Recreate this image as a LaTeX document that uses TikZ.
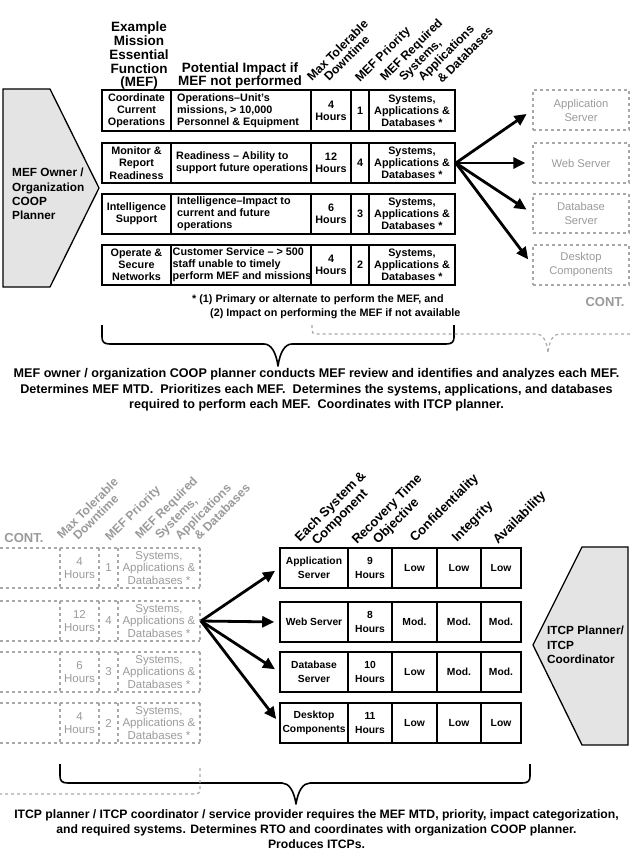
\documentclass[tikz,border=0pt]{standalone}
\usepackage{fontspec}
\setmainfont{Liberation Sans}
\usetikzlibrary{arrows.meta}
\definecolor{gfill}{HTML}{E4E4E4}
\definecolor{gline}{HTML}{A8A8A8}
\definecolor{gtext}{HTML}{9A9A9A}
\newcommand{\cellf}{\fontsize{10.8}{12.2}\selectfont\bfseries}
\newcommand{\headf}{\fontsize{13.5}{13.8}\selectfont\bfseries}
\newcommand{\rotf}{\fontsize{12.2}{13}\selectfont\bfseries}
\newcommand{\rotbf}{\fontsize{13}{13}\selectfont\bfseries}
\newcommand{\ownf}{\fontsize{11.8}{14.3}\selectfont\bfseries}
\newcommand{\grayf}{\fontsize{11.5}{12.6}\selectfont}
\newcommand{\grayboxf}{\fontsize{11.2}{14}\selectfont}
\newcommand{\capf}{\fontsize{12.6}{15.5}\selectfont\bfseries}
\newcommand{\capbf}{\fontsize{12.2}{15}\selectfont\bfseries}
\newcommand{\btf}{\fontsize{10.3}{13.5}\selectfont\bfseries}
\newcommand{\contf}{\fontsize{13}{13}\selectfont\bfseries}
\begin{document}
\begin{tikzpicture}[x=1pt,y=-1pt,
  tcell/.style={draw, line width=1.6pt, inner sep=0pt, align=center, font=\cellf},
  bcell/.style={draw, line width=1.6pt, inner sep=0pt, align=center, font=\btf, minimum height=40pt},
  ctext/.style={inner sep=0pt, align=left, anchor=west, font=\cellf},
  gbox/.style={draw=gline, line width=1.2pt, dash pattern=on 3pt off 3pt, inner sep=0pt, align=center, font=\grayboxf, text=gtext, minimum width=96pt},
  gtxt/.style={inner sep=0pt, align=center, font=\grayf, text=gtext},
  gdash/.style={draw=gline, line width=1.2pt, dash pattern=on 3pt off 3pt},
  rhead/.style={rotate=45, anchor=base west, inner sep=0pt, font=\rotf},
  rheadb/.style={rotate=45, anchor=base west, inner sep=0pt, font=\rotbf},
  grhead/.style={rotate=45, anchor=base west, inner sep=0pt, font=\rotf, text=gtext},
  arr/.style={line width=2.8pt, -{Triangle[length=12pt,width=11pt]}},
  bracepath/.style={line width=1.6pt, line join=round},
  ownerbox/.style={fill=gfill, draw=black, line width=1.3pt},
]
\useasboundingbox (0,0) rectangle (633,850);

% ---------------- TOP PART ----------------
\draw[ownerbox] (3,89) -- (50,89) -- (99,188) -- (50,287) -- (3,287) -- cycle;
\node[font=\ownf, align=left, anchor=west, inner sep=0pt] (owner) at (12,194) {MEF Owner /\\Organization\\COOP\\Planner};

\node[font=\headf, align=center, anchor=south, inner sep=0pt] (hmef) at (139,90) {Example\\Mission\\Essential\\Function\\(MEF)};
\node[font=\headf, align=center, anchor=south, inner sep=0pt] (himp) at (240,89) {Potential Impact if\\MEF not performed};

\node[rhead] (hmtd1) at (312,82) {Max Tolerable};
\node[rhead] (hmtd2) at (329,82) {Downtime};
\node[rhead] (hpri) at (360,83) {MEF Priority};
\node[rhead] (hreq1) at (385,82) {MEF Required};
\node[rhead] (hreq2) at (404,82) {Systems,};
\node[rhead] (hreq3) at (423,82) {Applications};
\node[rhead] (hreq4) at (442,84) {\& Databases};

% row 1
\node[tcell, minimum width=69pt, minimum height=41pt] (r1a) at (136.5,110.5) {Coordinate\\Current\\Operations};
\node[tcell, minimum width=140pt, minimum height=41pt] (r1b) at (241,110.5) {};
\node[ctext] (r1bt) at (177,110.5) {Operations–Unit’s\\missions, > 10,000\\Personnel \& Equipment};
\node[tcell, minimum width=40pt, minimum height=41pt] (r1c) at (331,110.5) {4\\Hours};
\node[tcell, minimum width=18pt, minimum height=41pt] (r1d) at (360,110.5) {1};
\node[tcell, minimum width=86pt, minimum height=41pt] (r1e) at (412,110.5) {Systems,\\Applications \&\\Databases *};
% row 2
\node[tcell, minimum width=69pt, minimum height=40pt] (r2a) at (136.5,163) {Monitor \&\\Report\\Readiness};
\node[tcell, minimum width=140pt, minimum height=40pt] (r2b) at (241,163) {};
\node[ctext] (r2bt) at (176,163) {Readiness – Ability to\\support future operations};
\node[tcell, minimum width=40pt, minimum height=40pt] (r2c) at (331,163) {12\\Hours};
\node[tcell, minimum width=18pt, minimum height=40pt] (r2d) at (360,163) {4};
\node[tcell, minimum width=86pt, minimum height=40pt] (r2e) at (412,163) {Systems,\\Applications \&\\Databases *};
% row 3
\node[tcell, minimum width=69pt, minimum height=40pt] (r3a) at (136.5,214) {Intelligence\\Support};
\node[tcell, minimum width=140pt, minimum height=40pt] (r3b) at (241,214) {};
\node[ctext] (r3bt) at (177,214) {Intelligence–Impact to\\current and future\\operations};
\node[tcell, minimum width=40pt, minimum height=40pt] (r3c) at (331,214) {6\\Hours};
\node[tcell, minimum width=18pt, minimum height=40pt] (r3d) at (360,214) {3};
\node[tcell, minimum width=86pt, minimum height=40pt] (r3e) at (412,214) {Systems,\\Applications \&\\Databases *};
% row 4
\node[tcell, minimum width=69pt, minimum height=40pt] (r4a) at (136.5,265) {Operate \&\\Secure\\Networks};
\node[tcell, minimum width=140pt, minimum height=40pt] (r4b) at (241,265) {};
\node[ctext] (r4bt) at (172.5,265) {Customer Service – > 500\\staff unable to timely\\perform MEF and missions};
\node[tcell, minimum width=40pt, minimum height=40pt] (r4c) at (331,265) {4\\Hours};
\node[tcell, minimum width=18pt, minimum height=40pt] (r4d) at (360,265) {2};
\node[tcell, minimum width=86pt, minimum height=40pt] (r4e) at (412,265) {Systems,\\Applications \&\\Databases *};

% gray system boxes
\node[gbox, minimum height=40pt] (s1) at (581,110) {Application\\Server};
\node[gbox, minimum height=40pt] (s2) at (581,163) {Web Server};
\node[gbox, minimum height=39pt] (s3) at (581,213.5) {Database\\Server};
\node[gbox, minimum height=40pt] (s4) at (581,265) {Desktop\\Components};
\foreach \t in {s1,s2,s3,s4} \draw[arr, shorten >=7pt] (r2e.east) -- (\t.west);

\node[font=\contf, text=gtext, inner sep=0pt] (cont1) at (605,302) {CONT.};

\node[font=\cellf, anchor=base west, inner sep=0pt] (fn1) at (192,302) {* (1) Primary or alternate to perform the MEF, and};
\node[font=\cellf, anchor=base west, inner sep=0pt] (fn2) at (210,316) {(2) Impact on performing the MEF if not available};

% braces top
\draw[bracepath] (102,325) -- (102,337) .. controls (102,342) and (104,344) .. (110,344) -- (264,344) .. controls (271,344) and (276,352) .. (278,366) .. controls (280,352) and (285,344) .. (292,344) -- (446,344) .. controls (452,344) and (454,342) .. (454,337) -- (454,325);
\draw[gdash] (312,325) -- (312,330) .. controls (312,333) and (313,334) .. (316,334) -- (537,334) .. controls (542,334) and (547,340) .. (548,353) .. controls (549,340) and (554,334) .. (559,334) -- (633,334);

\node[font=\capf, align=center, inner sep=0pt] (cap1) at (316.5,390) {MEF owner / organization COOP planner conducts MEF review and identifies and analyzes each MEF.\\Determines MEF MTD.~~Prioritizes each MEF.~~Determines the systems, applications, and databases\\required to perform each MEF.~~Coordinates with ITCP planner.};

% ---------------- BOTTOM PART ----------------
\node[font=\contf, text=gtext, inner sep=0pt] (cont2) at (24,538) {CONT.};
\node[grhead] (ghmtd1) at (62,540) {Max Tolerable};
\node[grhead] (ghmtd2) at (78,541) {Downtime};
\node[grhead] (ghpri) at (110,542) {MEF Priority};
\node[grhead] (ghreq1) at (140,540) {MEF Required};
\node[grhead] (ghreq2) at (160,540) {Systems,};
\node[grhead] (ghreq3) at (180,541) {Applications};
\node[grhead] (ghreq4) at (199,541) {\& Databases};

\foreach \t/\b in {548/588, 601/641, 652/692, 703/743} {
  \draw[gdash] (0,\t) -- (200,\t);
  \draw[gdash] (0,\b) -- (200,\b);
  \foreach \x in {60,99,118,200} \draw[gdash] (\x,\t) -- (\x,\b);
}
\node[gtxt] (g1a) at (79.5,568) {4\\Hours};
\node[gtxt] (g1b) at (108.5,568) {1};
\node[gtxt] (g1c) at (159,568) {Systems,\\Applications \&\\Databases *};
\node[gtxt] (g2a) at (79.5,621) {12\\Hours};
\node[gtxt] (g2b) at (108.5,621) {4};
\node[gtxt] (g2c) at (159,621) {Systems,\\Applications \&\\Databases *};
\node[gtxt] (g3a) at (79.5,672) {6\\Hours};
\node[gtxt] (g3b) at (108.5,672) {3};
\node[gtxt] (g3c) at (159,672) {Systems,\\Applications \&\\Databases *};
\node[gtxt] (g4a) at (79.5,723) {4\\Hours};
\node[gtxt] (g4b) at (108.5,723) {2};
\node[gtxt] (g4c) at (159,723) {Systems,\\Applications \&\\Databases *};
\coordinate (gsrc) at (201,621);

\node[rheadb] (bh1a) at (300,543) {Each System \&};
\node[rheadb] (bh1b) at (317,546) {Component};
\node[rheadb] (bh2a) at (357,545) {Recovery Time};
\node[rheadb] (bh2b) at (378,545) {Objective};
\node[rheadb] (bh3) at (415,543) {Confidentiality};
\node[rheadb] (bh4) at (457,543) {Integrity};
\node[rheadb] (bh5) at (498,545) {Availability};

\node[bcell, minimum width=68pt] (t1a) at (314,568) {Application\\Server};
\node[bcell, minimum width=44pt] (t1b) at (370,568) {9\\Hours};
\node[bcell, minimum width=45pt] (t1c) at (414.5,568) {Low};
\node[bcell, minimum width=44pt] (t1d) at (459,568) {Low};
\node[bcell, minimum width=40pt] (t1e) at (501,568) {Low};
\node[bcell, minimum width=68pt] (t2a) at (314,622) {Web Server};
\node[bcell, minimum width=44pt] (t2b) at (370,622) {8\\Hours};
\node[bcell, minimum width=45pt] (t2c) at (414.5,622) {Mod.};
\node[bcell, minimum width=44pt] (t2d) at (459,622) {Mod.};
\node[bcell, minimum width=40pt] (t2e) at (501,622) {Mod.};
\node[bcell, minimum width=68pt] (t3a) at (314,672) {Database\\Server};
\node[bcell, minimum width=44pt] (t3b) at (370,672) {10\\Hours};
\node[bcell, minimum width=45pt] (t3c) at (414.5,672) {Low};
\node[bcell, minimum width=44pt] (t3d) at (459,672) {Mod.};
\node[bcell, minimum width=40pt] (t3e) at (501,672) {Mod.};
\node[bcell, minimum width=68pt] (t4a) at (314,723) {Desktop\\Components};
\node[bcell, minimum width=44pt] (t4b) at (370,723) {11\\Hours};
\node[bcell, minimum width=45pt] (t4c) at (414.5,723) {Low};
\node[bcell, minimum width=44pt] (t4d) at (459,723) {Low};
\node[bcell, minimum width=40pt] (t4e) at (501,723) {Low};
\foreach \t in {t1a,t2a,t3a,t4a} \draw[arr, shorten >=5pt] (gsrc) -- (\t.west);

\draw[ownerbox] (582,547) -- (628,547) -- (628,745) -- (582,745) -- (533,645) -- cycle;
\node[font=\ownf, align=left, anchor=west, inner sep=0pt] (itcp) at (547,645) {ITCP Planner/\\ITCP\\Coordinator};

\draw[bracepath] (60,764) -- (60,776) .. controls (60,781) and (62,783) .. (68,783) -- (282,783) .. controls (289,783) and (294,791) .. (296,804) .. controls (298,791) and (303,783) .. (310,783) -- (522,783) .. controls (528,783) and (530,781) .. (530,776) -- (530,764);
\draw[gdash] (200,768) -- (200,789) .. controls (200,793) and (198,794) .. (195,794) -- (0,794);

\node[font=\capbf, align=center, inner sep=0pt] (cap2) at (316.5,829) {ITCP planner / ITCP coordinator / service provider requires the MEF MTD, priority, impact categorization,\\and required systems. Determines RTO and coordinates with organization COOP planner.\\Produces ITCPs.};
\end{tikzpicture}
\end{document}
